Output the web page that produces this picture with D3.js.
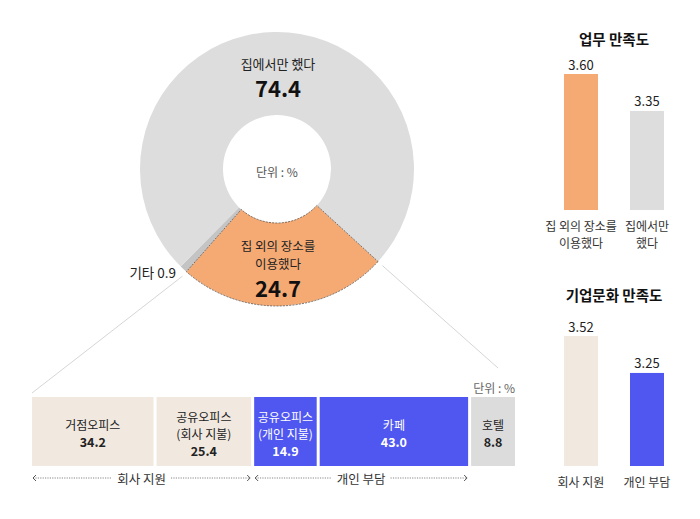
<!DOCTYPE html>
<html>
<head>
<meta charset="utf-8">
<script src="https://cdn.jsdelivr.net/npm/d3@7"></script>
<style>
  body { margin: 0; background: #fff; }
  svg text { font-family: "Noto Sans CJK KR", "Noto Sans", sans-serif; }
</style>
</head>
<body>
<svg id="chart" width="700" height="519"></svg>
<script>
// ========== Data ==========
// Donut: where people worked
var donutNames = ["집 외의 장소를 이용했다", "기타", "집에서만 했다"];
var donutValues = [24.7, 0.9, 74.4];

// Breakdown of the places outside home
var placeNames = [["거점오피스"], ["공유오피스", "(회사 지불)"], ["공유오피스", "(개인 지불)"], ["카페"], ["호텔"]];
var placeValues = [34.2, 25.4, 14.9, 43.0, 8.8];
var placeGroups = ["company", "company", "personal", "personal", "other"];
var groupNames = { company: "회사 지원", personal: "개인 부담" };

// Satisfaction bars
var workCats = [["집 외의 장소를", "이용했다"], ["집에서만", "했다"]];
var workValues = [3.60, 3.35];
var cultureCats = [["회사 지원"], ["개인 부담"]];
var cultureValues = [3.52, 3.25];
// ==========================

var svg = d3.select("#chart");

// ---------- donut ----------
var cx = 277, cy = 169, outerR = 137, innerR = 54;
var startDeg = 132.5;
var donutColors = ["#F5AA74", "#C4C4C4", "#DDDDDD"];

var pie = d3.pie().sort(null)
  .startAngle(startDeg * Math.PI / 180)
  .endAngle(startDeg * Math.PI / 180 + 2 * Math.PI);
var arc = d3.arc().innerRadius(innerR).outerRadius(outerR);
var arcs = pie(donutValues);

var donut = svg.append("g").attr("transform", "translate(" + cx + "," + cy + ")");
donut.selectAll("path.slice")
  .data(arcs)
  .enter().append("path")
  .attr("class", "slice")
  .attr("d", arc)
  .attr("fill", function(d, i) { return donutColors[i]; });

// dotted outline on the highlighted slice
donut.append("path")
  .attr("d", arc(arcs[0]))
  .attr("fill", "none")
  .attr("stroke", "#555")
  .attr("stroke-width", 0.8)
  .attr("stroke-dasharray", "2,1.2");

function polar(angle, r) {
  return [cx + r * Math.sin(angle), cy - r * Math.cos(angle)];
}

function label(g, x, y, size, text, opts) {
  opts = opts || {};
  return g.append("text").attr("x", x).attr("y", y)
    .attr("text-anchor", opts.anchor || "middle")
    .attr("dominant-baseline", "central")
    .attr("font-size", size)
    .attr("font-weight", opts.weight || "normal")
    .attr("fill", opts.fill || "#222")
    .text(text);
}

// texts inside the donut
label(donut, 1, -106, 13, donutNames[2]);
label(donut, 1, -82, 22, donutValues[2].toFixed(1), { weight: "bold", fill: "#111" });
label(donut, 0, 2, 12, "단위 : %", { fill: "#555" });
label(donut, 1, 76, 12.5, "집 외의 장소를");
label(donut, 1, 94, 12.5, "이용했다");
label(donut, 1, 118, 22, donutValues[0].toFixed(1), { weight: "bold", fill: "#111" });

label(svg, 176, 272, 13.5, donutNames[1] + " " + donutValues[1].toFixed(1), { anchor: "end" });

// ---------- breakdown strip ----------
var stripTop = 397, stripH = 69, gap = 3;
var stripLeft = 32, stripRight = 515;
// each block gets a fixed room for its label plus a part proportional to its value
var labelRoom = 17;
var w = d3.scaleLinear()
  .domain([0, d3.sum(placeValues)])
  .range([0, stripRight - stripLeft - gap * (placeValues.length - 1) - labelRoom * placeValues.length]);
var xs = [stripLeft];
placeValues.forEach(function(v) { xs.push(xs[xs.length - 1] + labelRoom + w(v) + gap); });

var fills = { company: "#F1E9DF", personal: "#5057F0", other: "#DCDCDC" };
var inks = { company: "#222", personal: "#fff", other: "#222" };

var seg = svg.selectAll("g.seg")
  .data(placeValues)
  .enter().append("g").attr("class", "seg");
seg.append("rect")
  .attr("x", function(d, i) { return xs[i]; })
  .attr("y", stripTop)
  .attr("width", function(d) { return labelRoom + w(d); })
  .attr("height", stripH)
  .attr("fill", function(d, i) { return fills[placeGroups[i]]; });
seg.each(function(d, i) {
  var g = d3.select(this);
  var mx = xs[i] + (labelRoom + w(d)) / 2;
  var lines = placeNames[i];
  var y0 = lines.length > 1 ? 416 : 424;
  lines.forEach(function(t, k) {
    label(g, mx, y0 + k * 17, 12, t, { fill: inks[placeGroups[i]] });
  });
  label(g, mx, y0 + lines.length * 17, 12.5, d.toFixed(1),
    { weight: "bold", fill: inks[placeGroups[i]] });
});

label(svg, stripRight, 387, 12, "단위 : %", { anchor: "end", fill: "#666" });

// leader lines from donut to strip
var a0 = arcs[0].endAngle, a1 = arcs[0].startAngle;
var p0 = polar(a0, outerR + 6), p1 = polar(a1, outerR + 6);
svg.append("line").attr("x1", p0[0]).attr("y1", p0[1])
  .attr("x2", stripLeft).attr("y2", stripTop - 4)
  .attr("stroke", "#d6d6d6").attr("stroke-width", 1);
svg.append("line").attr("x1", p1[0]).attr("y1", p1[1])
  .attr("x2", stripRight - 17).attr("y2", stripTop - 29)
  .attr("stroke", "#d6d6d6").attr("stroke-width", 1);

// group brackets under the strip
var bracketY = 478;
["company", "personal"].forEach(function(key) {
  var idx = placeGroups.map(function(g, i) { return g == key ? i : -1; })
    .filter(function(i) { return i >= 0; });
  var bx0 = xs[idx[0]] + 1;
  var bx1 = xs[idx[idx.length - 1] + 1] - gap - 1;
  var mid = (bx0 + bx1) / 2;
  var b = svg.append("g");
  var t = label(b, mid, bracketY, 12.5, groupNames[key], { fill: "#333" });
  var half = t.node().getComputedTextLength() / 2 + 5;
  b.append("line").attr("x1", bx0).attr("x2", mid - half).attr("y1", bracketY).attr("y2", bracketY)
    .attr("stroke", "#555").attr("stroke-width", 0.7).attr("stroke-dasharray", "1.2,1.2");
  b.append("line").attr("x1", mid + half).attr("x2", bx1).attr("y1", bracketY).attr("y2", bracketY)
    .attr("stroke", "#555").attr("stroke-width", 0.7).attr("stroke-dasharray", "1.2,1.2");
  b.append("path").attr("d", "M" + (bx0 + 3) + "," + (bracketY - 3) + "L" + bx0 + "," + bracketY + "L" + (bx0 + 3) + "," + (bracketY + 3))
    .attr("fill", "none").attr("stroke", "#444").attr("stroke-width", 0.9);
  b.append("path").attr("d", "M" + (bx1 - 3) + "," + (bracketY - 3) + "L" + bx1 + "," + bracketY + "L" + (bx1 - 3) + "," + (bracketY + 3))
    .attr("fill", "none").attr("stroke", "#444").attr("stroke-width", 0.9);
});

// ---------- satisfaction bar charts ----------
function barChart(opts) {
  var xb = d3.scaleBand().domain(d3.range(opts.values.length))
    .range([547.5, 680.5]).paddingInner(0.485).paddingOuter(0.25);
  var y = d3.scaleLinear().domain(opts.domain).range([opts.bottom, opts.top]);
  var g = svg.append("g");

  label(g, 614, opts.titleY, 14.5, opts.title, { weight: "bold", fill: "#111" });

  g.selectAll("rect")
    .data(opts.values)
    .enter().append("rect")
    .attr("x", function(d, i) { return xb(i); })
    .attr("width", xb.bandwidth())
    .attr("y", function(d) { return y(d); })
    .attr("height", function(d) { return opts.bottom - y(d); })
    .attr("fill", function(d, i) { return opts.colors[i]; });

  opts.values.forEach(function(d, i) {
    label(g, xb(i) + xb.bandwidth() / 2, y(d) - 10, 13, d.toFixed(2));
  });

  opts.cats.forEach(function(lines, i) {
    lines.forEach(function(t, k) {
      label(g, xb(i) + xb.bandwidth() / 2, opts.bottom + 15 + k * 17, 12, t, { fill: "#333" });
    });
  });
}

barChart({
  title: "업무 만족도", titleY: 38,
  values: workValues, cats: workCats,
  colors: ["#F5AA74", "#DDDDDD"],
  domain: [2.68, 3.60], top: 74, bottom: 210
});
barChart({
  title: "기업문화 만족도", titleY: 294,
  values: cultureValues, cats: cultureCats,
  colors: ["#F1E9DF", "#5057F0"],
  domain: [2.57, 3.52], top: 336, bottom: 466
});
</script>
</body>
</html>
